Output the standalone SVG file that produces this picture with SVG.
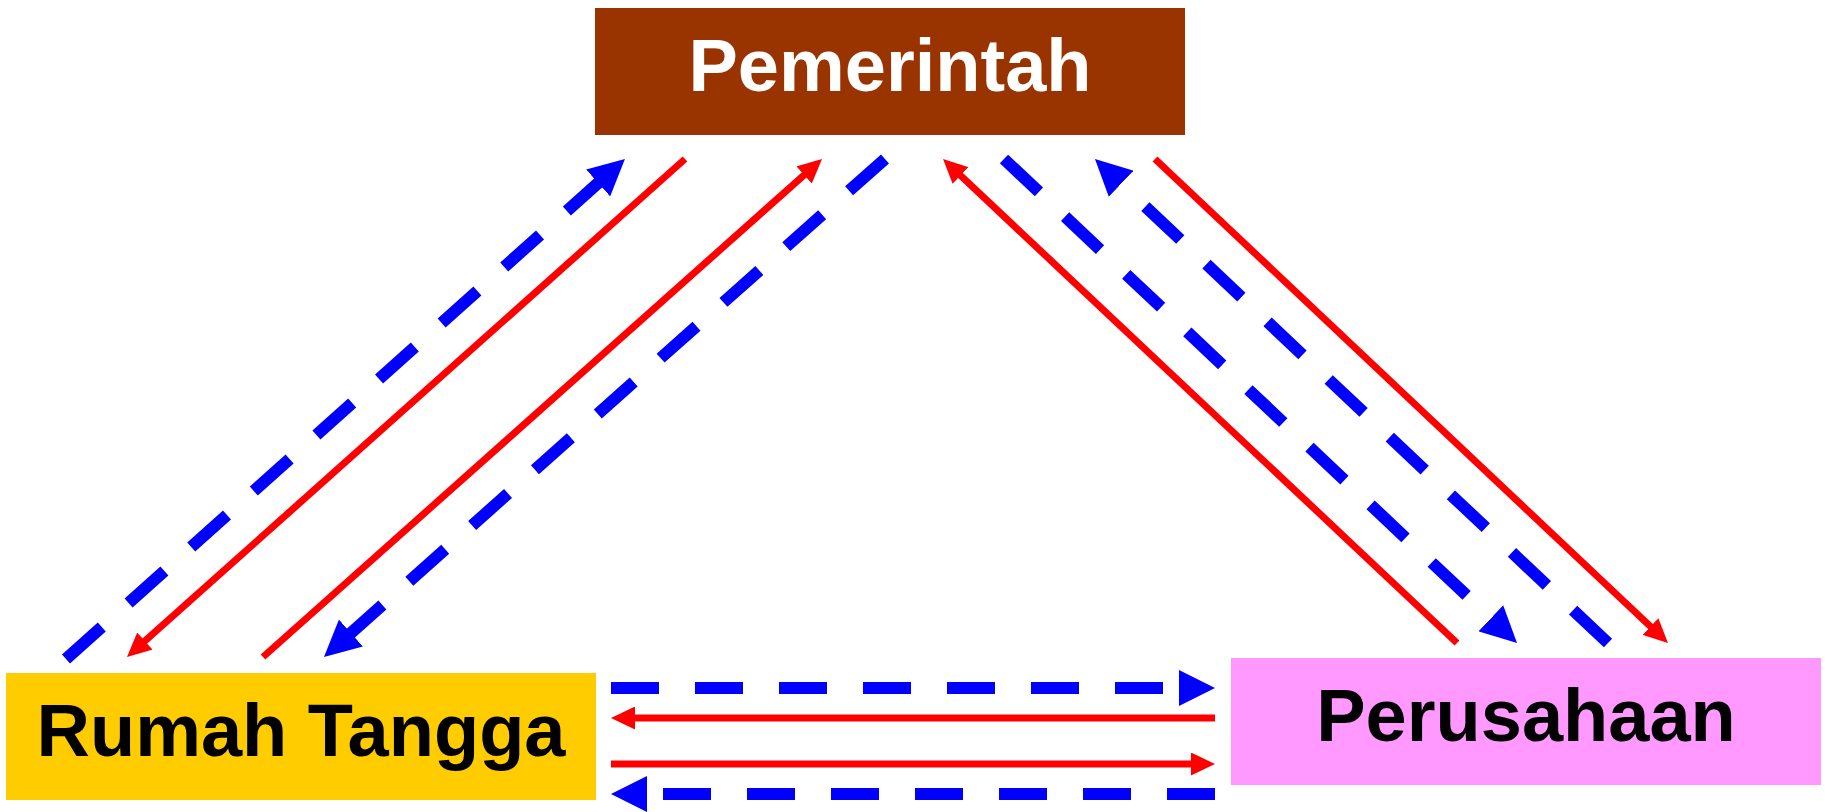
<svg xmlns="http://www.w3.org/2000/svg" width="1825" height="812" viewBox="0 0 1825 812">
<style>
.lbl{font-family:"Liberation Sans",Arial,sans-serif;font-weight:bold;font-size:74px;text-anchor:middle}
.flow{fill:none;stroke:#FF0000;stroke-width:7}
.money{fill:none;stroke:#0000FF;stroke-width:12;stroke-dasharray:48 36}
</style>
<defs>
<marker id="bh" markerUnits="userSpaceOnUse" markerWidth="36" markerHeight="36" refX="6" refY="18" orient="auto">
<path d="M0,0 L36,18 L0,36 z" fill="#0000FF"/>
</marker>
<marker id="rh" markerUnits="userSpaceOnUse" markerWidth="24" markerHeight="23" refX="4" refY="11.5" orient="auto">
<path d="M0,0 L24,11.5 L0,23 z" fill="#FF0000"/>
</marker>
</defs>
<rect width="1825" height="812" fill="#FFFFFF"/>
<g id="pemerintah">
<rect x="595" y="8" width="590" height="127" fill="#993300"/>
<text class="lbl" x="890" y="91" fill="#FFFFFF">Pemerintah</text>
</g>
<g id="rumah-tangga">
<rect x="6" y="673" width="590" height="127" fill="#FFCC00"/>
<text class="lbl" x="301" y="756" fill="#000000">Rumah Tangga</text>
</g>
<g id="perusahaan">
<rect x="1231" y="658" width="590" height="127" fill="#FF99FF"/>
<text class="lbl" x="1526" y="741" fill="#000000">Perusahaan</text>
</g>
<g id="connectors">
<path class="money" d="M66,659 L602.6,179" marker-end="url(#bh)"/>
<path class="flow" d="M685,159 L141.9,643.7" marker-end="url(#rh)"/>
<path class="flow" d="M263,657 L807.1,172.3" marker-end="url(#rh)"/>
<path class="money" d="M885,159 L346.4,637" marker-end="url(#bh)"/>
<path class="flow" d="M1457,643 L957.6,172.7" marker-end="url(#rh)"/>
<path class="money" d="M1004,159 L1495.2,622.4" marker-end="url(#bh)"/>
<path class="money" d="M1608,643 L1116.8,179.6" marker-end="url(#bh)"/>
<path class="flow" d="M1155,159 L1653.4,629.3" marker-end="url(#rh)"/>
<path class="money" d="M611,688 L1185,688" marker-end="url(#bh)"/>
<path class="flow" d="M1215,718 L631,718" marker-end="url(#rh)"/>
<path class="flow" d="M611,764 L1195,764" marker-end="url(#rh)"/>
<path class="money" d="M1215,794 L641,794" marker-end="url(#bh)"/>
</g>
</svg>
